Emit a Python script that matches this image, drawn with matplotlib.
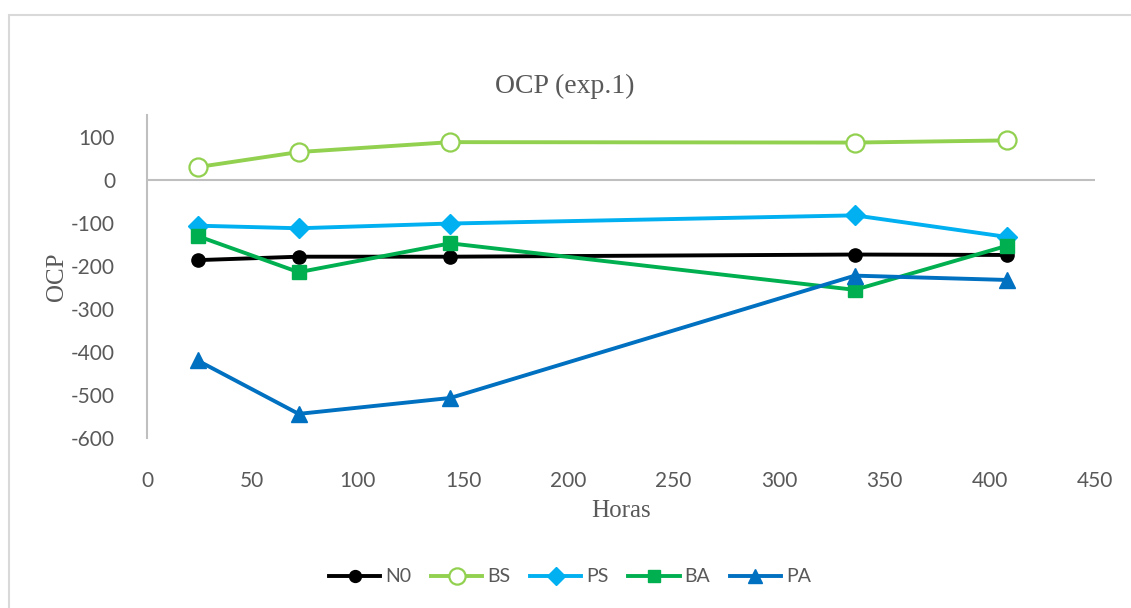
import matplotlib
matplotlib.use("Agg")
import matplotlib.pyplot as plt
from matplotlib.patches import Rectangle

# sampling times (hours) and OCP readings per sample
horas = [24, 72, 144, 336, 408]
n0 = [-187, -179, -179, -174, -175]
bs = [29, 64, 87, 86, 91]
ps = [-107, -113, -102, -83, -133]
ba = [-131, -215, -148, -256, -154]
pa = [-420, -544, -507, -223, -233]

series = [
    ("N0", n0, dict(color="black", marker="o", markersize=9.5)),
    ("BS", bs, dict(color="#92D050", marker="o", markersize=13, markerfacecolor="white",
                    markeredgewidth=1.6)),
    ("PS", ps, dict(color="#00B0F0", marker="D", markersize=10)),
    ("BA", ba, dict(color="#00B050", marker="s", markersize=9.5)),
    ("PA", pa, dict(color="#0070C0", marker="^", markersize=11)),
]

plt.rcParams["font.family"] = ["Lato", "DejaVu Sans"]
plt.rcParams["axes.unicode_minus"] = False
text_gray = "#595959"
axis_gray = "#BFBFBF"

fig = plt.figure(figsize=(11.31, 6.08), dpi=100)

# chart area border
fig.patches.append(Rectangle((9 / 1131, -0.1), 1.2, 1.1 - 15 / 608,
                             transform=fig.transFigure, fill=False,
                             edgecolor="#D9D9D9", linewidth=1.5))

ax = fig.add_axes([147 / 1131, 1 - 438 / 608, 948 / 1131, 323 / 608])

for name, vals, style in series:
    ax.plot(horas, vals, label=name, linewidth=2.8, zorder=3, **style)

ax.set_xlim(0, 450)
ax.set_ylim(-600, 150)
ax.set_xticks(range(0, 451, 50))
ax.set_yticks(range(-600, 101, 100))

for s in ["top", "right", "bottom"]:
    ax.spines[s].set_visible(False)
ax.spines["left"].set_color(axis_gray)
ax.spines["left"].set_linewidth(1.5)
ax.axhline(0, color=axis_gray, linewidth=1.5, zorder=1)

ax.tick_params(axis="both", length=0, labelsize=15, labelcolor=text_gray)
ax.tick_params(axis="x", pad=24)
ax.tick_params(axis="y", pad=23)

fig.text(565 / 1131, 1 - 93 / 608, "OCP (exp.1)", ha="center", va="baseline",
         fontsize=20, color=text_gray, family="Liberation Serif")
fig.text(621 / 1131, 1 - 517 / 608, "Horas", ha="center", va="baseline",
         fontsize=18, color=text_gray, family="Liberation Serif")
fig.text(57 / 1131, 1 - 277 / 608, "OCP", ha="center", va="center", rotation=90,
         fontsize=18, color=text_gray, family="Liberation Serif")

leg = fig.legend(loc="center", bbox_to_anchor=(570 / 1131, 1 - 577 / 608), ncol=5,
                 frameon=False, fontsize=14, numpoints=1, handlelength=2.65,
                 handletextpad=0.25, columnspacing=1.0, markerscale=0.9)
for t in leg.get_texts():
    t.set_color(text_gray)

fig.savefig("out.png", dpi=100)
